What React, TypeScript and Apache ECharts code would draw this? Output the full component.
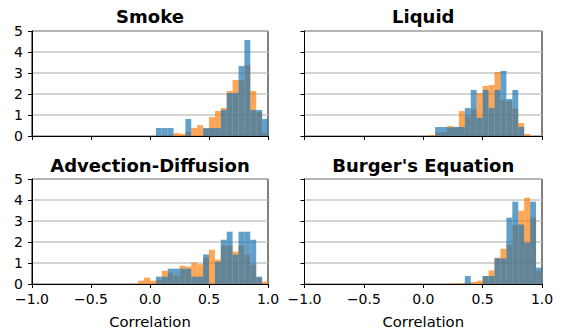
import React, { useEffect, useRef } from "react";
import * as echarts from "echarts";

// ---- data (histogram densities, bins of width 0.05) ----
const BIN_WIDTH = 0.05;
const panelTitles = ["Smoke", "Liquid", "Advection-Diffusion", "Burger's Equation"];
const xTickValues = [-1, -0.5, 0, 0.5, 1];
const yTickValues = [0, 1, 2, 3, 4, 5];
const xLabel = "Correlation";

const smokeBlueStart = 0.05;
const smokeBlue = [0.38, 0.38, 0.38, 0, 0, 0.81, 0, 0, 0.38, 0.38, 0.38, 1.24, 2.05, 2.05, 3.33, 4.57, 1.24, 1.24, 0.81];
const smokeOrangeStart = 0.1;
const smokeOrange = [0.05, 0.05, 0.14, 0.1, 0.19, 0.38, 0.52, 0.33, 0.9, 1.19, 1.33, 2.14, 2.67, 2.67, 3.38, 2.14, 1.14, 0.14];

const liquidBlueStart = 0.1;
const liquidBlue = [0.43, 0.43, 0.41, 0.43, 0.43, 1.33, 2.19, 0.87, 2.19, 1.33, 2.19, 3.1, 1.76, 2.19, 0.43];
const liquidOrangeStart = 0.05;
const liquidOrange = [0.05, 0.16, 0.19, 0.48, 0.41, 1.19, 0.92, 1.29, 2.05, 2.38, 2.43, 3.05, 1.71, 1.65, 1.29, 0.62, 0.1];

const advBlueStart = 0.05;
const advBlue = [0.35, 0.35, 0.73, 0.73, 0.73, 0.73, 0.35, 0.35, 1.41, 0, 1.06, 2.11, 2.49, 1.4, 2.49, 2.49, 2.11, 0.35];
const advOrangeStart = -0.1;
const advOrange = [0.16, 0.3, 0.16, 0.2, 0.63, 0.54, 0.4, 0.87, 0.83, 1.02, 0.94, 1.25, 1.63, 1.16, 1.83, 1.83, 1.54, 1.83, 1.4, 0.92, 0.3, 0.11];

const burgBlueStart = 0.35;
const burgBlue = [0.38, 0, 0, 0.38, 0.38, 1.22, 1.22, 3.16, 3.92, 2.83, 1.97, 3.92, 0.78];
const burgOrangeStart = 0.25;
const burgOrange = [0.03, 0.03, 0.06, 0.1, 0.16, 0.38, 0.65, 1.25, 1.68, 1.87, 2.83, 3.49, 4.11, 3.16, 0.63];

const blueSeries = [
  { start: smokeBlueStart, values: smokeBlue },
  { start: liquidBlueStart, values: liquidBlue },
  { start: advBlueStart, values: advBlue },
  { start: burgBlueStart, values: burgBlue },
];
const orangeSeries = [
  { start: smokeOrangeStart, values: smokeOrange },
  { start: liquidOrangeStart, values: liquidOrange },
  { start: advOrangeStart, values: advOrange },
  { start: burgOrangeStart, values: burgOrange },
];

// ---- layout ----
const grids = [
  { left: 32, top: 31, width: 236, height: 105 },
  { left: 304.5, top: 31, width: 237.5, height: 105 },
  { left: 32, top: 179, width: 236, height: 105 },
  { left: 304.5, top: 179, width: 237.5, height: 105 },
];
const FONT = '"DejaVu Sans", sans-serif';
const BLUE = "rgba(31,119,180,0.7)";
const ORANGE = "rgba(255,127,14,0.7)";

function toBins(start: number, values: number[]) {
  const out: number[][] = [];
  values.forEach((h, i) => {
    if (h > 0) {
      const a = Math.round((start + i * BIN_WIDTH) * 1000) / 1000;
      const b = Math.round((start + (i + 1) * BIN_WIDTH) * 1000) / 1000;
      out.push([a, b, h]);
    }
  });
  return out;
}

function fmtX(v: number) {
  return (v < 0 ? "\u2212" : "") + Math.abs(v).toFixed(1);
}

function makeRender(color: string) {
  return (params: any, api: any) => {
    const p0 = api.coord([api.value(0), api.value(2)]);
    const p1 = api.coord([api.value(1), 0]);
    return {
      type: "rect",
      shape: { x: p0[0], y: p0[1], width: p1[0] - p0[0], height: p1[1] - p0[1] },
      style: { fill: color },
    };
  };
}

export default function App() {
  const ref = useRef<HTMLDivElement>(null);
  useEffect(() => {
    if (!ref.current) return;
    const chart = echarts.init(ref.current, undefined, { renderer: "svg" });
    const xAxes: any[] = [];
    const yAxes: any[] = [];
    const series: any[] = [];
    const graphics: any[] = [];
    grids.forEach((g, i) => {
      const bottomRow = i >= 2;
      const leftCol = i % 2 === 0;
      xAxes.push({
        type: "value",
        gridIndex: i,
        min: xTickValues[0],
        max: xTickValues[xTickValues.length - 1],
        interval: 0.5,
        axisLine: { show: true, onZero: false, lineStyle: { color: "#000", width: 1 } },
        axisTick: { show: true, inside: false, length: 4, lineStyle: { color: "#000", width: 1 } },
        axisLabel: {
          show: bottomRow,
          margin: 8,
          fontSize: 14,
          fontFamily: FONT,
          color: "#000",
          showMinLabel: true,
          showMaxLabel: true,
          hideOverlap: false,
          formatter: fmtX,
        },
        splitLine: { show: false },
      });
      yAxes.push({
        type: "value",
        gridIndex: i,
        min: yTickValues[0],
        max: yTickValues[yTickValues.length - 1],
        interval: 1,
        axisLine: { show: true, onZero: false, lineStyle: { color: "#000", width: 1 } },
        axisTick: { show: true, inside: false, length: 4, lineStyle: { color: "#000", width: 1 } },
        axisLabel: {
          show: leftCol,
          margin: 9,
          fontSize: 14,
          fontFamily: FONT,
          color: "#000",
          showMinLabel: true,
          showMaxLabel: true,
        },
        splitLine: { show: true, lineStyle: { color: "#c6c6c6", width: 1.5 } },
      });
      series.push({
        type: "custom",
        xAxisIndex: i,
        yAxisIndex: i,
        renderItem: makeRender(ORANGE),
        encode: { x: [0, 1], y: 2 },
        data: toBins(orangeSeries[i].start, orangeSeries[i].values),
        clip: true,
        silent: true,
      });
      series.push({
        type: "custom",
        xAxisIndex: i,
        yAxisIndex: i,
        renderItem: makeRender(BLUE),
        encode: { x: [0, 1], y: 2 },
        data: toBins(blueSeries[i].start, blueSeries[i].values),
        clip: true,
        silent: true,
      });
      graphics.push({
        type: "text",
        x: g.left + g.width / 2,
        y: bottomRow ? 165.2 : 16.5,
        style: {
          text: panelTitles[i],
          font: `bold 18px ${FONT}`,
          fill: "#000",
          textAlign: "center",
          textVerticalAlign: "middle",
        },
      });
      if (bottomRow) {
        graphics.push({
          type: "text",
          x: g.left + g.width / 2,
          y: 321,
          style: {
            text: xLabel,
            font: `14.8px ${FONT}`,
            fill: "#000",
            textAlign: "center",
            textVerticalAlign: "middle",
          },
        });
      }
    });
    chart.setOption({
      animation: false,
      backgroundColor: "#fff",
      grid: grids.map((g) => ({
        ...g,
        show: true,
        borderColor: "#000",
        borderWidth: 1,
        backgroundColor: "transparent",
      })),
      xAxis: xAxes,
      yAxis: yAxes,
      series,
      graphic: graphics,
    });
    return () => chart.dispose();
  }, []);
  return (
    <div
      ref={ref}
      style={{ position: "fixed", left: 0, top: 0, width: 563, height: 330 }}
    />
  );
}
